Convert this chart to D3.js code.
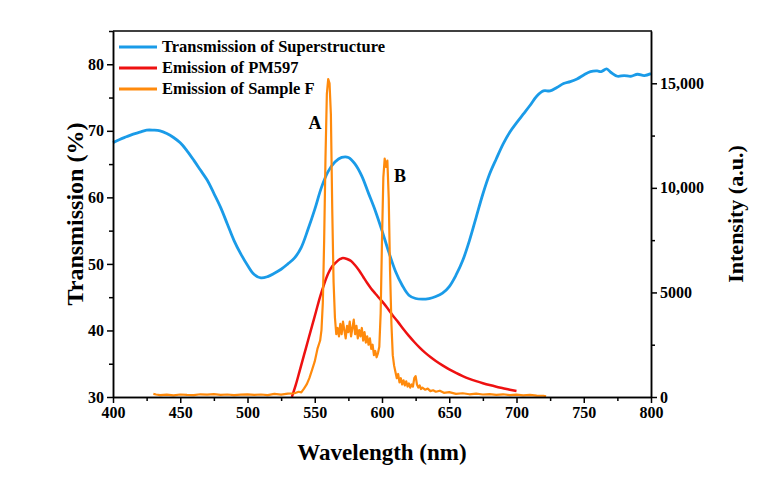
<!DOCTYPE html>
<html><head><meta charset="utf-8">
<script src="https://cdn.jsdelivr.net/npm/d3@7"></script>
<style>body{margin:0;background:#fff}svg{display:block}text{font-family:"Liberation Serif","Times New Roman",serif;font-weight:bold}</style>
</head><body><svg id="c" width="770" height="480"></svg>
<script>
const xTicks=[400,450,500,550,600,650,700,750,800];
const leftTicks=[30,40,50,60,70,80];
const rightTicks=[0,5000,10000,15000];
const rightTickLabels=["0","5000","10,000","15,000"];
const seriesNames=["Transmission of Superstructure","Emission of PM597","Emission of Sample F"];
const seriesColors=["#1a9be8","#ee1111","#ff8a0c"];

const transWl=[400,405,410,415,420,425,430,435,440,445,450,455,460,465,470,475,480,485,490,495,500,505,510,515,520,525,530,535,540,545,550,555,560,565,570,575,580,585,590,595,600,605,610,615,620,625,630,635,640,645,650,655,660,665,670,675,680,685,690,695,700,705,710,715,720,725,730,735,740,745,750,755,760,763,767,770,775,780,785,790,795,800];
const transVal=[68.2,68.7,69.1,69.5,69.8,70.1,70.1,70.0,69.6,69.0,68.2,67.0,65.6,64.1,62.6,60.6,58.5,56.0,53.5,51.5,49.8,48.4,47.9,48.1,48.6,49.2,50.0,50.9,52.5,55.2,58.2,61.5,63.9,65.3,66.0,66.0,65.0,63.2,60.6,58.0,55.0,51.8,48.9,46.8,45.3,44.8,44.7,44.8,45.1,45.6,46.6,48.3,50.5,53.5,57.0,60.5,63.5,65.8,68.0,69.8,71.2,72.5,73.8,75.2,76.0,76.0,76.5,77.1,77.4,77.8,78.4,78.9,79.0,78.9,79.3,78.8,78.2,78.3,78.2,78.5,78.3,78.6];

const pmWl=[533,536,539,542,545,548,551,554,557,560,563,566,569,571,574,577,580,583,586,589,592,595,598,601,604,608,612,616,620,624,628,632,636,640,645,650,655,660,665,670,675,680,685,690,695,700];
const pmVal=[0,600,1300,2000,2700,3400,4100,4800,5400,5900,6250,6450,6600,6650,6600,6500,6300,6050,5750,5450,5180,4950,4720,4500,4250,3900,3580,3240,2920,2630,2360,2120,1910,1720,1510,1320,1150,1000,870,760,660,570,490,420,350,290];

const sfWl=[430,432,435,440,445,450,455,460,465,470,475,480,485,490,495,500,505,510,515,520,525,530,535,538,540,542,544,546,548,550,552,554,555,556,557,558,559,560,561,562,563,564,565,566,567,568,569,570,571,572,573,574,575,576,577,578,579,580,581,582,583,584,585,586,587,588,589,590,591,592,593,594,595,596,597,598,599,600,601,602,603,604,605,606,607,608,609,610,611,612,613,614,615,616,617,618,619,620,621,622,623,624,625,626,627,628,629,630,632,634,636,638,640,643,646,650,655,660,665,670,675,680,685,690,695,700,705,710,715,720,722];
const sfVal=[150,120,90,110,80,120,100,90,130,110,140,100,120,90,110,130,100,120,90,150,110,160,180,250,220,400,600,900,1300,1700,2300,2700,3200,4500,7500,11500,14500,15200,15000,13500,9000,5500,3800,3000,3300,2900,3500,3000,3600,3200,2800,3400,3100,3600,2900,3300,3700,3000,3400,2800,3200,2900,3300,2700,3100,2600,2900,2500,2800,2300,2500,2000,2200,1900,2100,2400,4000,7500,10500,11400,11000,11300,9500,6000,3500,2000,1500,1200,900,1100,700,900,600,800,550,750,500,650,450,600,500,900,1000,600,450,550,380,450,350,400,280,320,250,300,200,230,150,180,130,160,120,140,100,130,90,110,80,100,70,60,30];

const svg=d3.select("#c");
const L=113,R=651,T=31,B=397;
const x=d3.scaleLinear().domain([400,800]).range([L,R]);
const yL=d3.scaleLinear().domain([30,85]).range([B,T]);
const yR=d3.scaleLinear().domain([0,17500]).range([B,T]);

function mkLine(xs,ys,sc,curve){
  return d3.line().x((d,i)=>x(xs[i])).y((d,i)=>sc(ys[i])).curve(curve)(xs);
}
const g=svg.append("g");
g.append("path").attr("d",mkLine(transWl,transVal,yL,d3.curveCatmullRom)).attr("fill","none").attr("stroke",seriesColors[0]).attr("stroke-width",2.8);
g.append("path").attr("d",mkLine(pmWl,pmVal,yR,d3.curveMonotoneX)).attr("fill","none").attr("stroke",seriesColors[1]).attr("stroke-width",2.5);
g.append("path").attr("d",mkLine(sfWl,sfVal,yR,d3.curveLinear)).attr("fill","none").attr("stroke",seriesColors[2]).attr("stroke-width",2.2).attr("stroke-linejoin","round");

// axes
const fs="16px";
svg.append("g").attr("transform",`translate(0,${B})`).call(d3.axisBottom(x).tickValues(xTicks).tickSize(6).tickSizeOuter(0).tickPadding(4));
svg.append("g").attr("transform",`translate(0,${B})`).call(d3.axisBottom(x).tickValues(d3.range(425,800,50)).tickSize(4).tickFormat("").tickSizeOuter(0));
svg.append("g").attr("transform",`translate(${L},0)`).call(d3.axisLeft(yL).tickValues(leftTicks).tickSize(6).tickSizeOuter(0).tickPadding(3));
svg.append("g").attr("transform",`translate(${L},0)`).call(d3.axisLeft(yL).tickValues([35,45,55,65,75,85]).tickSize(4).tickFormat("").tickSizeOuter(0));
svg.append("g").attr("transform",`translate(${R},0)`).call(d3.axisRight(yR).tickValues(rightTicks).tickFormat((d,i)=>rightTickLabels[i]).tickSize(6).tickSizeOuter(0).tickPadding(3));
svg.append("g").attr("transform",`translate(${R},0)`).call(d3.axisRight(yR).tickValues([2500,7500,12500]).tickSize(4).tickFormat("").tickSizeOuter(0));
svg.append("line").attr("x1",L).attr("x2",R+1).attr("y1",T).attr("y2",T).attr("stroke","#000").attr("stroke-width",1.5);
svg.selectAll(".domain").attr("stroke","#000").attr("stroke-width",1.5);
svg.selectAll(".tick line").attr("stroke","#000").attr("stroke-width",1.5);
svg.selectAll(".tick text").attr("font-size",fs).attr("font-family","Liberation Serif").attr("font-weight","bold").attr("fill","#000");

// axis titles
svg.append("text").attr("x",(L+R)/2).attr("y",460).attr("text-anchor","middle").attr("font-size","23px").text("Wavelength (nm)");
svg.append("text").attr("transform",`translate(83,${(T+B)/2}) rotate(-90)`).attr("text-anchor","middle").attr("font-size","24px").text("Transmission (%)");
svg.append("text").attr("transform",`translate(743,${(T+B)/2}) rotate(-90)`).attr("text-anchor","middle").attr("font-size","22px").text("Intensity (a.u.)");

// peak labels
svg.append("text").attr("x",x(555)).attr("y",yR(12800)).attr("text-anchor","end").attr("font-size","18px").text("A");
svg.append("text").attr("x",x(609)).attr("y",yR(10300)).attr("text-anchor","start").attr("font-size","18px").text("B");

// legend
const lg=svg.append("g");
seriesNames.forEach((n,i)=>{
  const yy=47+i*21;
  lg.append("line").attr("x1",119).attr("x2",157).attr("y1",yy).attr("y2",yy).attr("stroke",seriesColors[i]).attr("stroke-width",3);
  lg.append("text").attr("x",162).attr("y",yy+5).attr("font-size","16.5px").text(n);
});
</script></body></html>
